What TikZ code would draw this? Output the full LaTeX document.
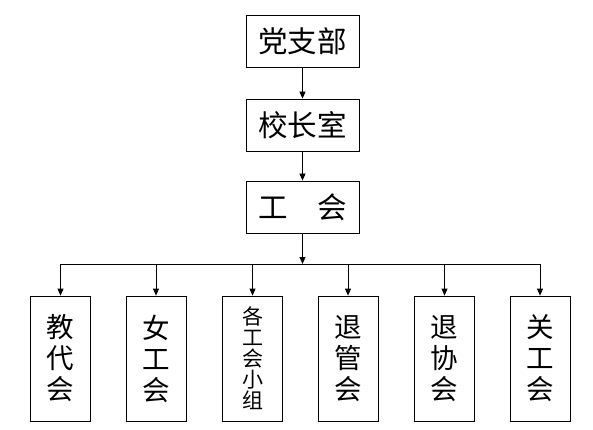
\documentclass[tikz,border=0pt]{standalone}
\usepackage{fontspec}
\newfontfamily\cjk{Noto Sans CJK SC}
\usetikzlibrary{arrows.meta}
\begin{document}
\begin{tikzpicture}[x=1pt,y=-1pt,
    topbox/.style={draw,line width=0.8pt,minimum width=113pt,minimum height=52pt,inner sep=0pt,font=\cjk\fontsize{29.5}{30}\selectfont},
    subbox/.style={draw,line width=0.8pt,minimum width=60pt,minimum height=125pt,inner sep=0pt,align=center,font=\cjk\fontsize{27.5}{31}\selectfont},
    link/.style={-{Triangle[length=7pt,width=6pt]},line width=0.8pt}]
    \useasboundingbox (0,0) rectangle (593,430);
    \node[topbox] (dzb) at (302.5,41.5) {党支部};
    \node[topbox] (xzs) at (302.5,125) {校长室};
    \node[topbox] (gh) at (302.5,207) {工　会};
    \draw[link] (dzb) -- (xzs);
    \draw[link] (xzs) -- (gh);
    % branches
    \coordinate (bus) at (302.5,264);
    \draw[link] (gh) -- (bus);
    \node[subbox] (jdh) at (60.5,358.5) {教\\代\\会};
    \node[subbox] (ngh) at (156,358.5) {女\\工\\会};
    \node[subbox,font=\cjk\fontsize{21}{21}\selectfont] (xz) at (252.5,358.5) {各\\工\\会\\小\\组};
    \node[subbox] (tgh) at (348,358.5) {退\\管\\会};
    \node[subbox] (txh) at (444.5,358.5) {退\\协\\会};
    \node[subbox] (ggh) at (540,358.5) {关\\工\\会};
    \coordinate (b1) at (60.5,264);
    \coordinate (b2) at (156,264);
    \coordinate (b3) at (252.5,264);
    \coordinate (b4) at (348,264);
    \coordinate (b5) at (444.5,264);
    \coordinate (b6) at (540,264);
    \draw[line width=0.8pt] (b1) -- (b6);
    \draw[link] (b1) -- (jdh);
    \draw[link] (b2) -- (ngh);
    \draw[link] (b3) -- (xz);
    \draw[link] (b4) -- (tgh);
    \draw[link] (b5) -- (txh);
    \draw[link] (b6) -- (ggh);
\end{tikzpicture}
\end{document}
